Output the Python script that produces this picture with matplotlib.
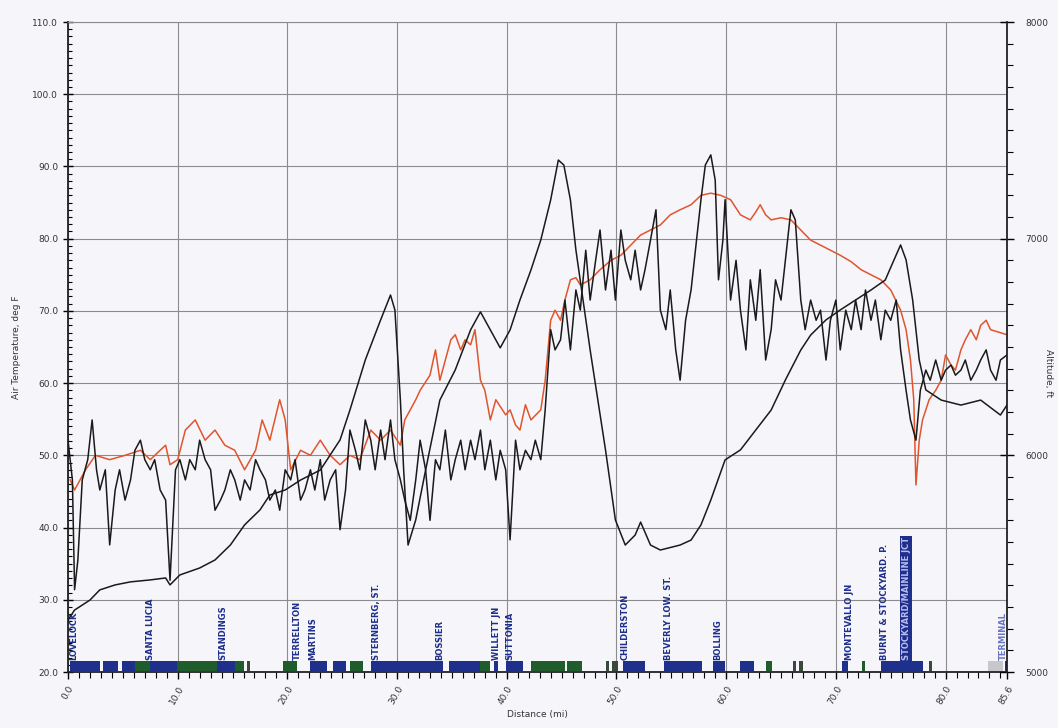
import numpy as np
import matplotlib.pyplot as plt
from matplotlib.ticker import MultipleLocator, FixedLocator

# altitude profile (ft) vs distance (mi)
alt_mi = [0.0, 0.6, 2.0, 2.9, 4.3, 5.7, 7.5, 8.9, 9.3, 10.2, 12.0, 13.4, 14.8, 16.1,
          17.5, 18.4, 19.8, 21.2, 23.0, 24.8, 25.7, 27.1, 28.5, 29.4, 29.8, 30.3, 30.6,
          31.0, 31.7, 32.6, 33.9, 35.3, 36.7, 37.6, 38.5, 39.4, 40.3, 41.2, 42.2, 43.1,
          44.0, 44.7, 45.2, 45.8, 46.3, 47.6, 49.0, 49.9, 50.8, 51.7, 52.2, 53.1, 54.0,
          55.8, 56.8, 57.7, 58.6, 59.9, 61.3, 62.7, 64.1, 65.4, 66.8, 67.7, 69.1, 70.4,
          71.8, 73.2, 74.5, 75.3, 75.9, 76.4, 77.0, 77.6, 78.2, 79.6, 81.4, 83.2, 85.0, 85.6]
alt_ft = [5240, 5286, 5332, 5379, 5402, 5416, 5425, 5434, 5402, 5448, 5480, 5517, 5586, 5679,
          5748, 5817, 5840, 5886, 5932, 6071, 6209, 6440, 6625, 6740, 6671, 6255, 5932,
          5586, 5702, 5932, 6255, 6394, 6579, 6662, 6579, 6496, 6579, 6717, 6855, 6994,
          7179, 7363, 7340, 7179, 6948, 6486, 6025, 5702, 5586, 5632, 5692, 5586, 5563,
          5586, 5609, 5679, 5794, 5979, 6025, 6117, 6209, 6348, 6486, 6555, 6625, 6671,
          6717, 6763, 6809, 6902, 6971, 6902, 6717, 6440, 6302, 6255, 6232, 6255, 6186, 6232]

# orange temperature trace (deg F)
ora_mi = [0.2, 0.6, 1.6, 2.5, 3.8, 5.2, 6.6, 7.5, 8.4, 8.9, 9.3, 10.0, 10.7, 11.6, 12.5,
          13.4, 14.3, 15.2, 16.1, 17.1, 17.7, 18.4, 19.3, 19.8, 20.3, 21.2, 22.1, 23.0,
          23.9, 24.8, 25.7, 26.6, 27.6, 28.5, 29.4, 30.3, 30.7, 31.7, 32.1, 33.0, 33.5,
          33.9, 34.4, 34.9, 35.3, 35.8, 36.2, 36.7, 37.1, 37.6, 38.0, 38.5, 39.0, 39.9,
          40.3, 40.8, 41.2, 41.7, 42.2, 43.1, 43.5, 44.0, 44.4, 44.9, 45.3, 45.8, 46.3,
          46.7, 47.6, 48.5, 49.5, 50.4, 51.3, 52.2, 53.1, 54.0, 54.9, 55.8, 56.8, 57.7,
          58.6, 59.5, 60.4, 61.3, 62.2, 62.7, 63.1, 63.6, 64.1, 65.0, 65.9, 66.8, 67.7,
          68.6, 69.5, 70.4, 71.4, 72.3, 73.2, 74.1, 75.0, 75.9, 76.4, 76.8, 77.1, 77.3,
          77.6, 77.9, 78.5, 79.1, 79.6, 80.0, 80.5, 80.9, 81.4, 81.8, 82.3, 82.8, 83.2,
          83.7, 84.1, 85.6]
ora_f = [46.6, 45.2, 48.0, 50.0, 49.4, 50.0, 50.7, 49.4, 50.7, 51.4, 48.7, 49.4, 53.5, 54.9, 52.1,
         53.5, 51.4, 50.7, 48.0, 50.7, 54.9, 52.1, 57.7, 54.9, 48.0, 50.7, 50.0, 52.1,
         50.0, 48.7, 50.0, 49.4, 53.5, 52.1, 53.5, 51.4, 54.9, 57.7, 59.0, 61.1, 64.6,
         60.4, 63.2, 66.0, 66.7, 64.6, 66.0, 65.3, 67.4, 60.4, 59.0, 54.9, 57.7, 55.6,
         56.3, 54.2, 53.5, 57.0, 54.9, 56.3, 60.4, 68.7, 70.1, 68.7, 71.5, 74.3, 74.6,
         73.6, 74.3, 75.7, 77.0, 77.7, 79.1, 80.5, 81.2, 81.9, 83.3, 84.0, 84.7, 86.0,
         86.3, 86.0, 85.4, 83.3, 82.6, 83.7, 84.7, 83.3, 82.6, 82.9, 82.6, 81.2, 79.8,
         79.1, 78.4, 77.7, 76.8, 75.7, 75.0, 74.3, 72.9, 70.1, 67.4, 63.2, 57.7, 45.9,
         52.1, 54.9, 57.7, 59.0, 60.4, 63.9, 62.5, 61.8, 64.6, 66.0, 67.4, 66.0, 68.0,
         68.7, 67.4, 66.7]

# black temperature trace (deg F)
blk_mi = [0.0, 0.4, 0.6, 0.9, 1.3, 1.8, 2.2, 2.6, 2.9, 3.4, 3.8, 4.3, 4.7, 5.2, 5.7, 6.1,
          6.6, 7.0, 7.5, 7.9, 8.4, 8.9, 9.3, 9.8, 10.2, 10.7, 11.1, 11.6, 12.0, 12.5, 13.0,
          13.4, 13.9, 14.3, 14.8, 15.2, 15.7, 16.1, 16.6, 17.1, 17.5, 18.0, 18.4, 18.9,
          19.3, 19.8, 20.3, 20.7, 21.2, 21.6, 22.1, 22.5, 23.0, 23.4, 23.9, 24.4, 24.8,
          25.3, 25.7, 26.2, 26.6, 27.1, 27.6, 28.0, 28.5, 28.9, 29.4, 29.8, 30.3, 30.7,
          31.2, 31.7, 32.1, 32.6, 33.0, 33.5, 33.9, 34.4, 34.9, 35.3, 35.8, 36.2, 36.7,
          37.1, 37.6, 38.0, 38.5, 39.0, 39.4, 39.9, 40.3, 40.8, 41.2, 41.7, 42.2, 42.6,
          43.1, 43.5, 44.0, 44.4, 44.9, 45.3, 45.8, 46.3, 46.7, 47.2, 47.6, 48.1, 48.5,
          49.0, 49.5, 49.9, 50.4, 50.8, 51.3, 51.7, 52.2, 52.6, 53.1, 53.6, 54.0, 54.5,
          54.9, 55.4, 55.8, 56.3, 56.8, 57.2, 57.7, 58.1, 58.6, 59.0, 59.3, 59.7, 59.9,
          60.4, 60.9, 61.3, 61.8, 62.2, 62.7, 63.1, 63.6, 64.1, 64.5, 65.0, 65.4, 65.9,
          66.3, 66.8, 67.2, 67.7, 68.2, 68.6, 69.1, 69.5, 70.0, 70.4, 70.9, 71.4, 71.8,
          72.3, 72.7, 73.2, 73.6, 74.1, 74.5, 75.0, 75.5, 75.9, 76.4, 76.8, 77.3, 77.7,
          78.2, 78.6, 79.1, 79.6, 80.0, 80.5, 80.9, 81.4, 81.8, 82.3, 82.8, 83.2, 83.7,
          84.1, 84.6, 85.0, 85.6]
blk_f = [52.1, 46.6, 31.4, 35.5, 46.6, 49.4, 54.9, 48.0, 45.2, 48.0, 37.6, 45.2, 48.0, 43.8, 46.6, 50.7,
         52.1, 49.4, 48.0, 49.4, 45.2, 43.8, 32.7, 48.0, 49.4, 46.6, 49.4, 48.0, 52.1, 49.4, 48.0,
         42.4, 43.8, 45.2, 48.0, 46.6, 43.8, 46.6, 45.2, 49.4, 48.0, 46.6, 43.8, 45.2,
         42.4, 48.0, 46.6, 49.4, 43.8, 45.2, 48.0, 45.2, 49.4, 43.8, 46.6, 48.0, 39.7,
         45.2, 53.5, 50.7, 48.0, 54.9, 52.1, 48.0, 53.5, 49.4, 54.9, 49.4, 46.6, 43.8,
         41.0, 46.6, 52.1, 48.0, 41.0, 49.4, 48.0, 53.5, 46.6, 49.4, 52.1, 48.0, 52.1,
         49.4, 53.5, 48.0, 52.1, 46.6, 50.7, 48.0, 38.3, 52.1, 48.0, 50.7, 49.4, 52.1,
         49.4, 56.3, 67.4, 64.6, 66.0, 71.5, 64.6, 72.9, 70.1, 78.4, 71.5, 77.0, 81.2,
         72.9, 78.4, 71.5, 81.2, 77.0, 74.3, 78.4, 72.9, 75.7, 79.8, 84.0, 70.1, 67.4,
         72.9, 64.6, 60.4, 68.7, 72.9, 78.4, 85.4, 90.2, 91.6, 88.1, 74.3, 79.8, 85.4,
         71.5, 77.0, 70.1, 64.6, 74.3, 68.7, 75.7, 63.2, 67.4, 74.3, 71.5, 77.0, 84.0,
         82.6, 71.5, 67.4, 71.5, 68.7, 70.1, 63.2, 68.7, 71.5, 64.6, 70.1, 67.4, 71.5,
         67.4, 72.9, 68.7, 71.5, 66.0, 70.1, 68.7, 71.5, 64.6, 59.0, 54.9, 52.1, 59.0,
         61.8, 60.4, 63.2, 60.4, 61.8, 62.5, 61.1, 61.8, 63.2, 60.4, 61.8, 63.2, 64.6,
         61.8, 60.4, 63.2, 63.9]

# track segments along the bottom (start mi, end mi, kind)
seg_start = [0.2, 3.2, 4.9, 6.1, 7.5, 9.9, 13.6, 15.2, 16.3, 19.6, 22.1, 24.2, 25.7, 27.6,
             34.7, 37.6, 38.8, 39.9, 42.2, 45.5, 49.0, 49.6, 50.6, 54.3, 58.8, 61.3, 63.6,
             66.1, 66.6, 70.6, 72.4, 74.1, 78.5, 83.9, 85.4]
seg_end = [2.9, 4.6, 6.1, 7.5, 9.9, 13.6, 15.2, 16.0, 16.6, 20.9, 23.6, 25.3, 26.9, 34.2,
           37.6, 38.5, 39.2, 41.5, 45.3, 46.9, 49.3, 50.1, 52.6, 57.8, 59.9, 62.5, 64.2,
           66.4, 67.0, 71.1, 72.7, 77.9, 78.8, 85.2, 85.6]
seg_kind = ['b', 'b', 'b', 'g', 'b', 'g', 'b', 'g', 'k', 'g', 'b', 'b', 'g', 'b',
            'b', 'g', 'b', 'b', 'g', 'g', 'k', 'k', 'b', 'b', 'b', 'b', 'g',
            'k', 'k', 'b', 'g', 'b', 'k', 'x', 'b']

# station names and mileposts
stn_mi = [0.5, 7.5, 14.1, 20.9, 22.3, 28.1, 33.9, 39.1, 40.3, 50.8, 54.7, 59.2, 71.2,
          74.4, 76.4, 85.3]
stn_name = ['LOVELOCK', 'SANTA LUCIA', 'STANDINGS', 'TERRELLTON', 'MARTINS',
            'STERNBERG, ST.', 'BOSSIER', 'WILLETT JN', 'SUTTONIA', 'CHILDERSTON',
            'BEVERLY LOW. ST.', 'BOLLING', 'MONTEVALLO JN', 'BURNT & STOCKYARD. P.',
            'STOCKYARD/MAINLINE JCT', 'TERMINAL']

xticks = [0, 10, 20, 30, 40, 50, 60, 70, 80, 85.6]
xtick_labels = ['0.0', '10.0', '20.0', '30.0', '40.0', '50.0', '60.0', '70.0', '80.0', '85.6']

bg = '#f6f5fa'
blue = '#1e2f8c'
green = '#1f5e2c'
seg_colors = {'b': blue, 'g': green, 'k': '#3a4a3a', 'x': '#c8c8cc'}

fig = plt.figure(figsize=(10.58, 7.28), dpi=100, facecolor=bg)
ax = fig.add_axes([68 / 1058, 1 - 672 / 728, (1007 - 68) / 1058, 650 / 728])
ax.set_facecolor(bg)

ax.set_xlim(0, 85.6)
ax.set_ylim(20, 110)
ax.xaxis.set_major_locator(FixedLocator(xticks))
ax.set_xticklabels(xtick_labels, rotation=60, ha='right', va='top',
                   rotation_mode='anchor', fontsize=6.5, color='#333333')
ax.xaxis.set_minor_locator(MultipleLocator(1))
ax.yaxis.set_major_locator(MultipleLocator(10))
ax.yaxis.set_minor_locator(MultipleLocator(1))
ax.set_yticklabels([f'{v:.1f}' for v in ax.get_yticks()], fontsize=6.5, color='#333333')

ax.grid(True, which='major', color='#8c8c8c', lw=0.8)
ax.tick_params(axis='y', which='major', direction='inout', length=7, width=1)
ax.tick_params(axis='y', which='minor', direction='in', length=3, width=0.8)
ax.tick_params(axis='x', which='major', direction='out', length=5, width=1)
ax.tick_params(axis='x', which='minor', direction='out', length=4, width=0.8)
for s in ['left', 'bottom']:
    ax.spines[s].set_color('#222222')
    ax.spines[s].set_linewidth(1.3)
ax.spines['top'].set_color('#8c8c8c')
ax.spines['top'].set_linewidth(0.8)
ax.spines['right'].set_visible(False)

ax.plot(ora_mi, ora_f, color='#e0552d', lw=1.1, zorder=3)
ax.plot(blk_mi, blk_f, color='#1a1a1a', lw=1.1, zorder=4)

for a, b, k in zip(seg_start, seg_end, seg_kind):
    ax.broken_barh([(a, b - a)], (20.1, 1.4), facecolors=seg_colors[k], zorder=5)

for m, name in zip(stn_mi, stn_name):
    if name.startswith('STOCKYARD/'):
        ax.text(m, 21.6, name, rotation=90, ha='center', va='bottom', fontsize=6,
                fontweight='bold', color='#b8bcf0', zorder=6,
                bbox=dict(boxstyle='square,pad=0.15', fc=blue, ec='none'))
    elif name == 'TERMINAL':
        ax.text(m, 21.6, name, rotation=90, ha='center', va='bottom', fontsize=6,
                fontweight='bold', color='#6a76c0', zorder=6)
    else:
        ax.text(m, 21.6, name, rotation=90, ha='center', va='bottom', fontsize=6,
                fontweight='bold', color=blue, zorder=6)

ax.set_ylabel('Air Temperature, deg F', fontsize=6.5, color='#333333', labelpad=8)
ax.set_xlabel('Distance (mi)', fontsize=6.5, color='#333333', labelpad=3)

ax2 = ax.twinx()
ax2.set_ylim(5000, 8000)
ax2.yaxis.set_major_locator(MultipleLocator(1000))
ax2.yaxis.set_minor_locator(MultipleLocator(100))
ax2.set_yticklabels([f'{int(v)}' for v in ax2.get_yticks()], fontsize=6.5, color='#333333')
ax2.tick_params(axis='y', which='major', direction='inout', length=10, width=1, pad=8)
ax2.tick_params(axis='y', which='minor', direction='out', length=4, width=0.8)
ax2.spines['right'].set_color('#222222')
ax2.spines['right'].set_linewidth(1.3)
for s in ['left', 'top', 'bottom']:
    ax2.spines[s].set_visible(False)
ax2.plot(alt_mi, alt_ft, color='#1a1a1a', lw=1.1, zorder=4)
ax2.set_ylabel('Altitude, ft', fontsize=6.5, color='#333333', rotation=270,
               va='center', ha='center')
ax2.yaxis.set_label_coords(1.044, 0.46)

fig.savefig('out.png', dpi=100, facecolor=bg)
